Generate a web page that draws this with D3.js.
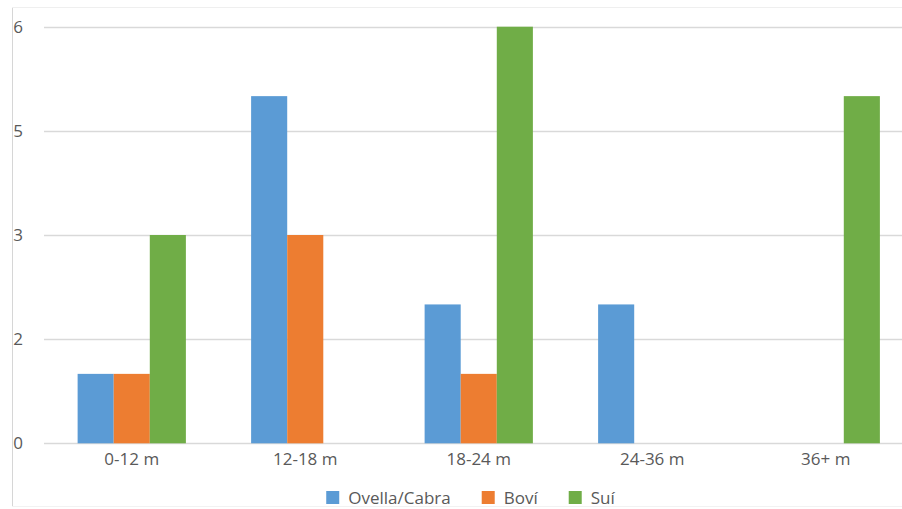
<!DOCTYPE html>
<html>
<head>
<meta charset="utf-8">
<script src="https://cdn.jsdelivr.net/npm/d3@7"></script>
<style>
  html, body { margin: 0; padding: 0; background: #ffffff; }
  svg { display: block; }
  text { font-family: "Open Sans", "Liberation Sans", sans-serif; fill: #595959; }
</style>
</head>
<body>
<svg id="chart" width="902" height="509"></svg>
<script>
const categories = ["0-12 m", "12-18 m", "18-24 m", "24-36 m", "36+ m"];
const seriesNames = ["Ovella/Cabra", "Boví", "Suí"];
const ovellaCabra = [1, 5, 2, 2, 0];
const bovi = [1, 3, 1, 0, 0];
const sui = [3, 0, 6, 0, 5];
const seriesValues = [ovellaCabra, bovi, sui];
const colors = ["#5b9bd5", "#ed7d31", "#70ad47"];
const tickValues = [0, 1.5, 3, 4.5, 6];
const tickLabels = ["0", "2", "3", "5", "6"];

const svg = d3.select("#chart");

// chart frame (partially visible)
svg.append("line").attr("x1", 12.5).attr("x2", 12.5).attr("y1", 7).attr("y2", 506)
  .attr("stroke", "#d6d6d6").attr("stroke-width", 1);
svg.append("line").attr("x1", 12).attr("x2", 902).attr("y1", 7.5).attr("y2", 7.5)
  .attr("stroke", "#efefef").attr("stroke-width", 1);
svg.append("line").attr("x1", 12).attr("x2", 902).attr("y1", 506.5).attr("y2", 506.5)
  .attr("stroke", "#f2f2f2").attr("stroke-width", 1);

const x = d3.scaleBand().domain(categories).range([45, 912.5])
  .paddingInner(0.376).paddingOuter(0.188);
const xs = d3.scaleBand().domain(seriesNames).range([0, x.bandwidth()]);
const y = d3.scaleLinear().domain([0, 6]).range([443.3, 26.7]);

// gridlines
const grid = svg.append("g");
grid.selectAll("line").data(tickValues).join("line")
  .attr("x1", 44).attr("x2", 902)
  .attr("y1", d => Math.round(y(d)) + 0.5).attr("y2", d => Math.round(y(d)) + 0.5)
  .attr("stroke", "#d9d9d9").attr("stroke-width", 1.3);

// y tick labels
svg.append("g").selectAll("text").data(tickValues).join("text")
  .attr("x", 23).attr("y", d => y(d) + 6)
  .attr("text-anchor", "end")
  .attr("font-size", 17)
  .text((d, i) => tickLabels[i]);

// bars
const groups = svg.append("g").selectAll("g").data(seriesNames).join("g")
  .attr("fill", (d, i) => colors[i]);
groups.selectAll("rect")
  .data((s, si) => categories.map((c, ci) => ({ s, c, v: seriesValues[si][ci] })))
  .join("rect")
  .attr("x", d => x(d.c) + xs(d.s))
  .attr("width", xs.bandwidth())
  .attr("y", d => y(d.v))
  .attr("height", d => y(0) - y(d.v));

// x axis labels
svg.append("g").selectAll("text").data(categories).join("text")
  .attr("x", d => x(d) + x.bandwidth() / 2)
  .attr("y", 465)
  .attr("text-anchor", "middle")
  .attr("font-size", 17)
  .text(d => d);

// legend
const legend = svg.append("g");
const sq = 13, gapText = 9, gapItem = 31;
let lx = 0;
seriesNames.forEach((name, i) => {
  const g = legend.append("g").attr("transform", `translate(${lx},0)`);
  g.append("rect").attr("x", 0).attr("y", 491).attr("width", sq).attr("height", sq).attr("fill", colors[i]);
  const t = g.append("text").attr("x", sq + gapText).attr("y", 504).attr("font-size", 17).text(name);
  const w = t.node().getComputedTextLength();
  lx += sq + gapText + w + gapItem;
});
const totalW = lx - gapItem;
legend.attr("transform", `translate(${470.5 - totalW / 2},0)`);
</script>
</body>
</html>
